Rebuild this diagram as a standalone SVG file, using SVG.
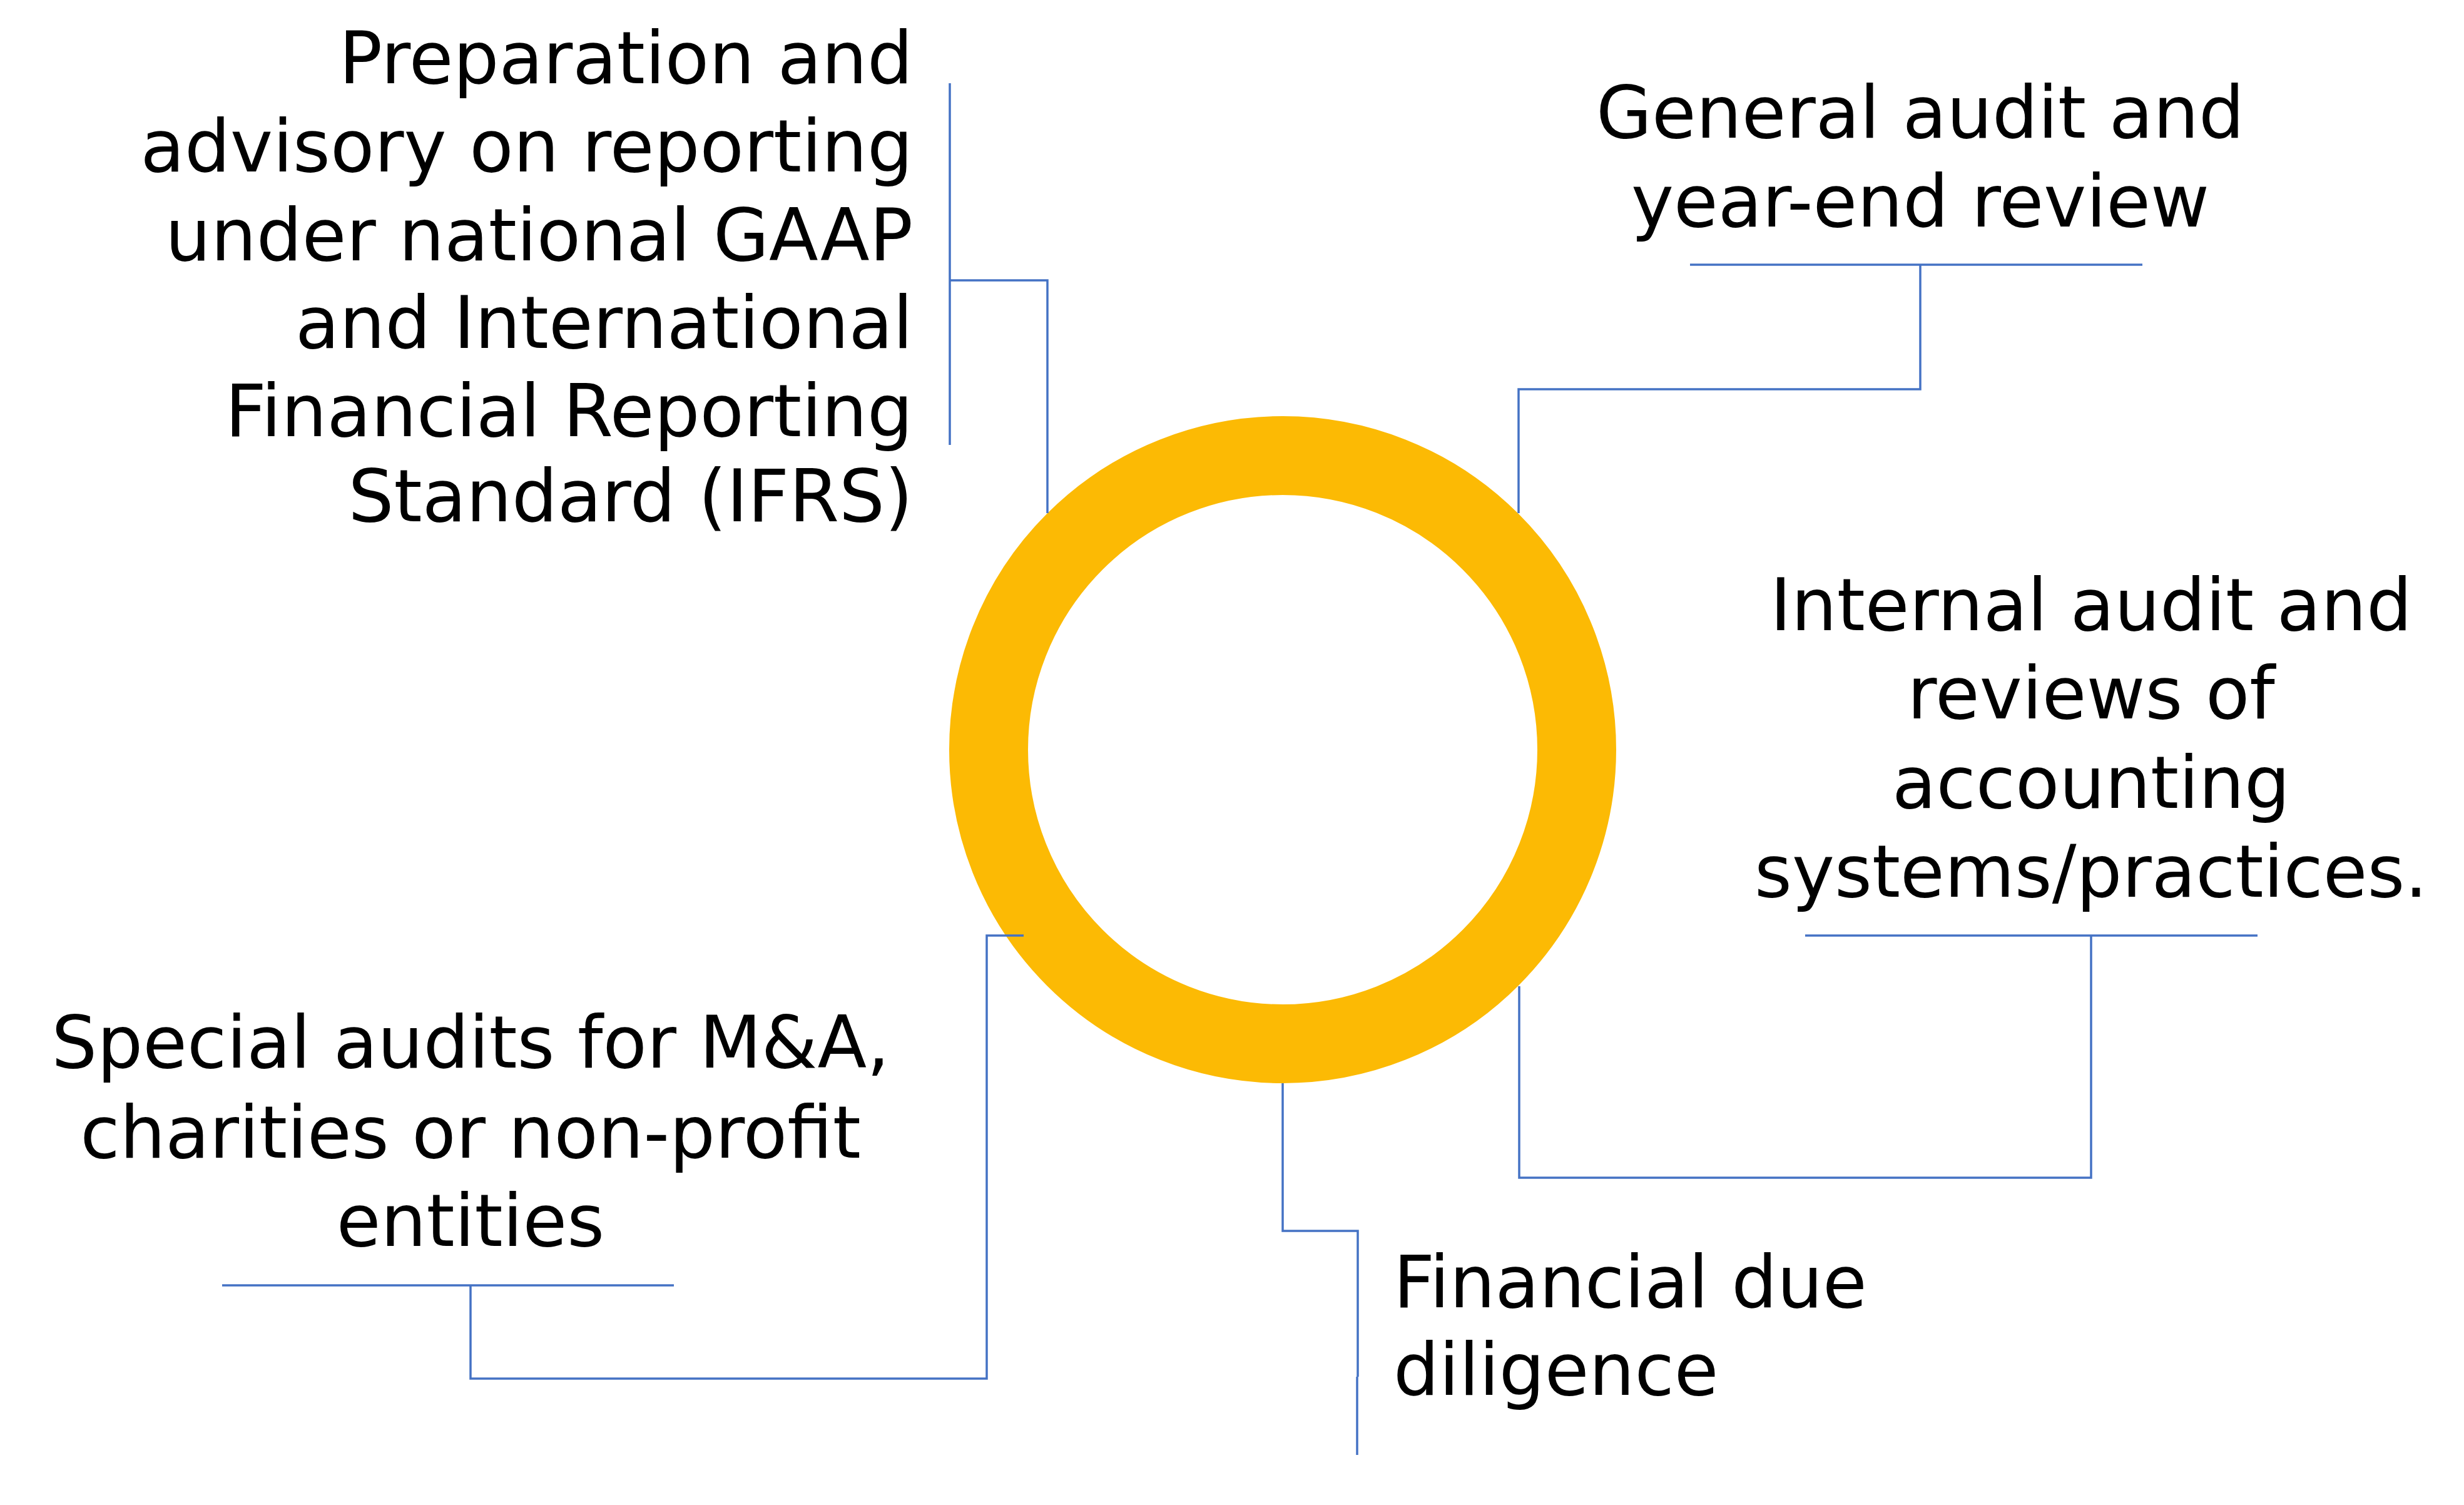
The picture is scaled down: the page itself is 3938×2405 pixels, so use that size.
<svg xmlns="http://www.w3.org/2000/svg" width="3938" height="2405" viewBox="0 0 3938 2405">
<style>
.lbl{font-family:"DejaVu Sans",sans-serif;font-size:115px;fill:#000}
.con{fill:none;stroke:#4472C4;stroke-width:3.5}
</style>
<rect x="0" y="0" width="3938" height="2405" fill="#fff"/>
<g id="ring"><circle cx="2050" cy="1198" r="470" fill="none" stroke="#FCBA04" stroke-width="126"/></g>
<g id="connectors">
<line class="con" x1="1518" y1="133" x2="1518" y2="711"/>
<path class="con" d="M1518,448 H1674 V820"/>
<line class="con" x1="2701" y1="423" x2="3424" y2="423"/>
<path class="con" d="M3069,423 V622 H2427 V820"/>
<line class="con" x1="2885" y1="1495" x2="3608" y2="1495"/>
<path class="con" d="M3342,1495 V1882 H2428 V1576"/>
<path class="con" d="M2050,1731 V1967 H2170 V2200"/>
<line class="con" x1="2169" y1="2200" x2="2169" y2="2325"/>
<line class="con" x1="355" y1="2054" x2="1077" y2="2054"/>
<path class="con" d="M752,2054 V2203 H1577 V1495 H1636"/>
</g>
<g id="node-ifrs">
<text class="lbl" text-anchor="end"><tspan x="1459" y="133">Preparation and</tspan><tspan x="1459" y="274">advisory on reporting</tspan><tspan x="1459" y="416">under national GAAP</tspan><tspan x="1459" y="556">and International</tspan><tspan x="1459" y="697">Financial Reporting</tspan><tspan x="1459" y="833">Standard (IFRS)</tspan></text>
</g>
<g id="node-general">
<text class="lbl" text-anchor="middle"><tspan x="3069" y="220">General audit and</tspan><tspan x="3069" y="362">year-end review</tspan></text>
</g>
<g id="node-internal">
<text class="lbl" text-anchor="middle"><tspan x="3342" y="1007">Internal audit and</tspan><tspan x="3342" y="1148">reviews of</tspan><tspan x="3342" y="1291">accounting</tspan><tspan x="3342" y="1433">systems/practices.</tspan></text>
</g>
<g id="node-duediligence">
<text class="lbl"><tspan x="2227" y="2089">Financial due</tspan><tspan x="2227" y="2229">diligence</tspan></text>
</g>
<g id="node-special">
<text class="lbl" text-anchor="middle"><tspan x="752" y="1706">Special audits for M&amp;A,</tspan><tspan x="752" y="1850">charities or non-profit</tspan><tspan x="752" y="1991">entities</tspan></text>
</g>
</svg>
